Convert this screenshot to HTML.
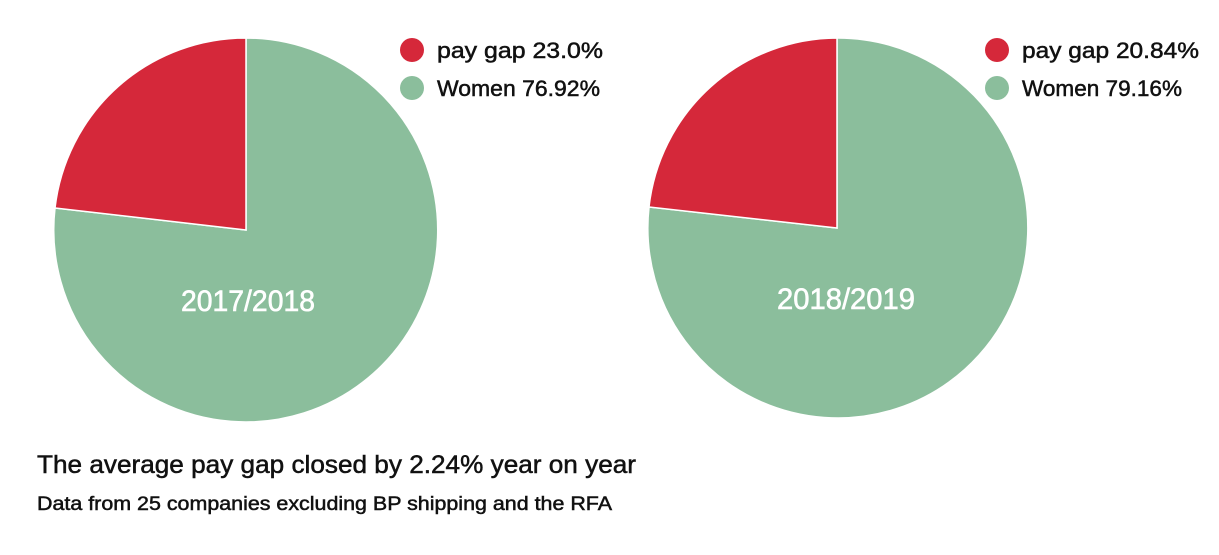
<!DOCTYPE html>
<html><head><meta charset="utf-8"><style>
html,body{margin:0;padding:0;background:#fff;}
svg{display:block;}
text{font-family:"Liberation Sans",sans-serif;}
.k{stroke:#111;stroke-width:0.5;}
.w{stroke:#fff;stroke-width:0.6;}
</style></head><body>
<svg width="1219" height="555" viewBox="0 0 1219 555">
<path d="M246,230 L55,208 A192,192 0 1 0 246,38 Z" fill="#8bbe9c" stroke="#fff" stroke-width="1.5"/>
<path d="M246,230 L246,38 A192,192 0 0 0 55,208 Z" fill="#d5283a" stroke="#fff" stroke-width="1.5"/>
<text class="w" x="248" y="311" fill="#fff" font-size="30" text-anchor="middle" textLength="134" lengthAdjust="spacingAndGlyphs">2017/2018</text>
<path d="M837,228 L649,207 A190,190 0 1 0 837,38 Z" fill="#8bbe9c" stroke="#fff" stroke-width="1.5"/>
<path d="M837,228 L837,38 A190,190 0 0 0 649,207 Z" fill="#d5283a" stroke="#fff" stroke-width="1.5"/>
<text class="w" x="846" y="309" fill="#fff" font-size="30" text-anchor="middle" textLength="138" lengthAdjust="spacingAndGlyphs">2018/2019</text>
<circle cx="412" cy="50" r="12" fill="#d5283a"/>
<circle cx="412" cy="88" r="12" fill="#8bbe9c"/>
<text class="k" x="437" y="58" font-size="22" fill="#111" textLength="166" lengthAdjust="spacingAndGlyphs">pay gap 23.0%</text>
<text class="k" x="437" y="96" font-size="22" fill="#111" textLength="163" lengthAdjust="spacingAndGlyphs">Women 76.92%</text>
<circle cx="997" cy="50" r="12" fill="#d5283a"/>
<circle cx="997" cy="88" r="12" fill="#8bbe9c"/>
<text class="k" x="1022" y="58" font-size="22" fill="#111" textLength="177" lengthAdjust="spacingAndGlyphs">pay gap 20.84%</text>
<text class="k" x="1022" y="96" font-size="22" fill="#111" textLength="160" lengthAdjust="spacingAndGlyphs">Women 79.16%</text>
<text class="k" x="37" y="473" font-size="25" fill="#111" textLength="599" lengthAdjust="spacingAndGlyphs">The average pay gap closed by 2.24% year on year</text>
<text class="k" x="37" y="510" font-size="19" fill="#111" textLength="575" lengthAdjust="spacingAndGlyphs">Data from 25 companies excluding BP shipping and the RFA</text>
</svg>
</body></html>
